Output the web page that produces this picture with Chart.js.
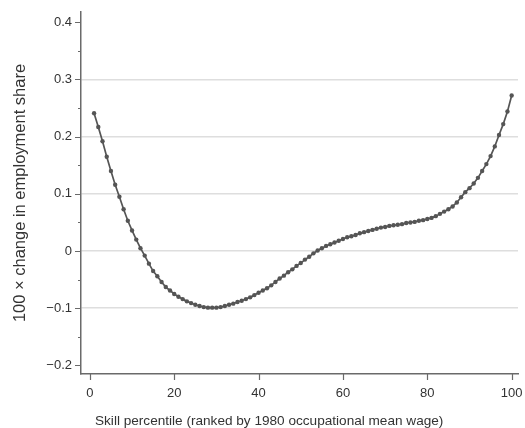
<!DOCTYPE html>
<html>
<head>
<meta charset="utf-8">
<script src="https://cdn.jsdelivr.net/npm/chart.js@4.4.1/dist/chart.umd.min.js"></script>
<style>
  html, body { margin: 0; padding: 0; background: #fff; }
</style>
</head>
<body>
<canvas id="chart" width="525" height="428"></canvas>
<script>
// skill percentile (x) and 100 x change in employment share (y)
const percentiles = [
  1, 2, 3, 4, 5, 6, 7, 8, 9, 10,
  11, 12, 13, 14, 15, 16, 17, 18, 19, 20,
  21, 22, 23, 24, 25, 26, 27, 28, 29, 30,
  31, 32, 33, 34, 35, 36, 37, 38, 39, 40,
  41, 42, 43, 44, 45, 46, 47, 48, 49, 50,
  51, 52, 53, 54, 55, 56, 57, 58, 59, 60,
  61, 62, 63, 64, 65, 66, 67, 68, 69, 70,
  71, 72, 73, 74, 75, 76, 77, 78, 79, 80,
  81, 82, 83, 84, 85, 86, 87, 88, 89, 90,
  91, 92, 93, 94, 95, 96, 97, 98, 99, 100
];
const shareChange = [
  0.241, 0.217, 0.192, 0.165, 0.140, 0.116, 0.095, 0.073, 0.053, 0.036,
  0.020, 0.005, -0.008, -0.022, -0.035, -0.044, -0.054, -0.063, -0.069, -0.075,
  -0.080, -0.084, -0.088, -0.091, -0.094, -0.096, -0.098, -0.099, -0.099, -0.099,
  -0.098, -0.096, -0.094, -0.092, -0.089, -0.087, -0.084, -0.081, -0.077, -0.073,
  -0.069, -0.065, -0.060, -0.054, -0.048, -0.043, -0.037, -0.032, -0.026, -0.021,
  -0.015, -0.010, -0.004, 0.001, 0.005, 0.009, 0.012, 0.015, 0.018, 0.021,
  0.024, 0.026, 0.028, 0.031, 0.033, 0.035, 0.037, 0.039, 0.041, 0.042,
  0.044, 0.045, 0.046, 0.047, 0.049, 0.050, 0.051, 0.053, 0.054, 0.056,
  0.058, 0.061, 0.065, 0.069, 0.073, 0.078, 0.085, 0.094, 0.103, 0.110,
  0.118, 0.128, 0.140, 0.152, 0.166, 0.183, 0.203, 0.222, 0.244, 0.272
];

const xTicks = [0, 20, 40, 60, 80, 100];
const yTicks = [-0.2, -0.15, -0.1, -0.05, 0, 0.05, 0.1, 0.15, 0.2, 0.25, 0.3, 0.35, 0.4];
const yMajor = [-0.2, -0.1, 0, 0.1, 0.2, 0.3, 0.4];
const yGrid = [-0.1, 0, 0.1, 0.2, 0.3];

const xTitle = 'Skill percentile (ranked by 1980 occupational mean wage)';
const yTitle = '100 \u00d7 change in employment share';

const FONT = "'Liberation Sans', Arial, Helvetica, sans-serif";
const inList = (list, v) => list.some(m => Math.abs(m - v) < 1e-9);

const fmtY = v => {
  if (Math.abs(v) < 1e-9) return '0';
  return (v < 0 ? '\u2212' : '') + Math.abs(v).toFixed(1);
};

// short outward tick marks (major and minor) and the x title
const axisMarks = {
  id: 'axisMarks',
  afterDraw(chart) {
    const { ctx, scales: { x, y } } = chart;
    ctx.save();
    ctx.strokeStyle = '#6a6a6a';
    ctx.lineWidth = 1.2;
    ctx.beginPath();
    yTicks.forEach(v => {
      const py = Math.round(y.getPixelForValue(v)) + 0.5;
      const len = inList(yMajor, v) ? 6 : 3;
      ctx.moveTo(y.right - len, py);
      ctx.lineTo(y.right, py);
    });
    xTicks.forEach(v => {
      const px = Math.round(x.getPixelForValue(v)) + 0.5;
      ctx.moveTo(px, x.top);
      ctx.lineTo(px, x.top + 6);
    });
    ctx.stroke();

    ctx.fillStyle = '#333';
    ctx.font = '13.6px ' + FONT;
    ctx.textAlign = 'left';
    ctx.textBaseline = 'middle';
    ctx.fillText(xTitle, chart.chartArea.left + 14, x.bottom - 7);
    ctx.restore();
  }
};

new Chart(document.getElementById('chart'), {
  type: 'line',
  data: {
    datasets: [{
      data: percentiles.map((p, i) => ({ x: p, y: shareChange[i] })),
      borderColor: '#555',
      backgroundColor: '#555',
      borderWidth: 1.7,
      pointRadius: 2.2,
      pointBorderWidth: 0,
      pointBackgroundColor: '#555',
      tension: 0
    }]
  },
  options: {
    responsive: false,
    animation: false,
    devicePixelRatio: 1,
    layout: { padding: { top: 12, right: 7, left: 0, bottom: 0 } },
    plugins: {
      legend: { display: false },
      tooltip: { enabled: false }
    },
    scales: {
      x: {
        type: 'linear',
        min: -2.1,
        max: 101.5,
        afterBuildTicks: s => { s.ticks = xTicks.map(v => ({ value: v })); },
        afterFit: s => { s.height = 54; s.paddingLeft = 0; s.paddingRight = 0; },
        grid: { display: false, drawTicks: false },
        border: { display: true, color: '#6a6a6a', width: 1.5 },
        ticks: {
          padding: 12,
          color: '#333',
          font: { family: FONT, size: 13 },
          maxRotation: 0
        }
      },
      y: {
        min: -0.215,
        max: 0.418,
        afterBuildTicks: s => { s.ticks = yTicks.map(v => ({ value: v })); },
        afterFit: s => { s.width = 81; s.paddingTop = 0; s.paddingBottom = 0; },
        grid: {
          drawTicks: false,
          lineWidth: 1.6,
          color: c => (c.tick && inList(yGrid, c.tick.value)) ? '#dedede' : 'rgba(0,0,0,0)'
        },
        border: { display: true, color: '#6a6a6a', width: 1.5 },
        ticks: {
          padding: 9,
          color: '#333',
          font: { family: FONT, size: 13 },
          callback: v => inList(yMajor, v) ? fmtY(v) : ''
        },
        title: {
          display: true,
          text: yTitle,
          color: '#333',
          font: { family: FONT, size: 16.5 },
          padding: { top: 11, bottom: 0 }
        }
      }
    }
  },
  plugins: [axisMarks]
});
</script>
</body>
</html>
